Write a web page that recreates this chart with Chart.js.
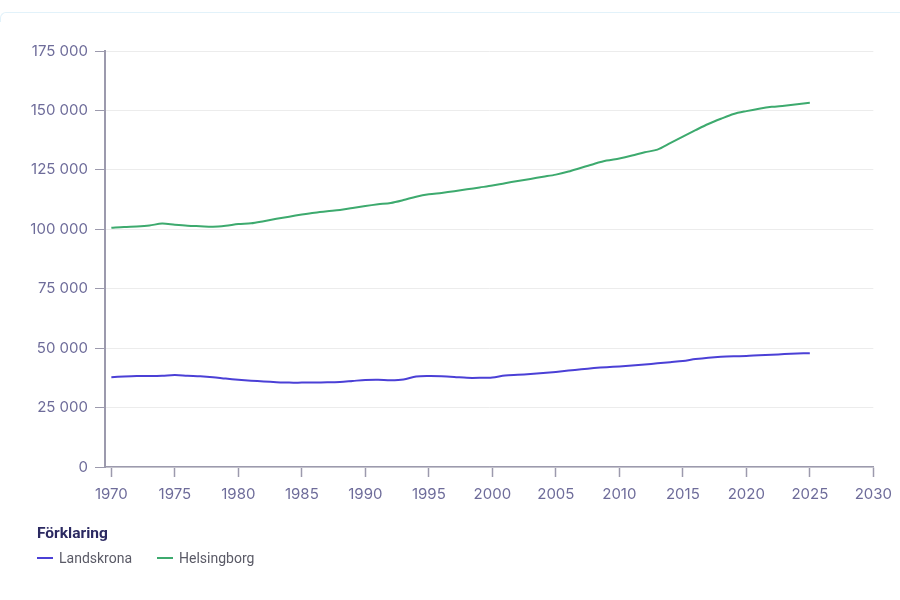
<!DOCTYPE html>
<html lang="sv">
<head>
<meta charset="utf-8">
<title>Folkmängd Landskrona och Helsingborg</title>
<script src="https://cdn.jsdelivr.net/npm/chart.js@4.4.1/dist/chart.umd.min.js"></script>
<style>
    body { margin: 0; background: #fff; }
    .card { position: relative; width: 900px; height: 600px; overflow: hidden; }
    .card-top { position: absolute; left: 0; top: 12px; width: 900px; height: 10px;
        border-top: 1px solid #e2f2fa; border-left: 1px solid #e2f2fa; border-top-left-radius: 6px; box-sizing: border-box; }
    .chart-box { position: absolute; left: 0; top: 0; width: 900px; height: 600px; }
    .legend { position: absolute; left: 37px; top: 523px; font-family: Roboto, "Noto Sans", sans-serif; }
    .legend h4 { margin: 0; font-size: 15.5px; line-height: 20px; font-weight: 700; color: #2b2961; }
    .legend-items { display: flex; margin-top: 6px; }
    .legend-item { display: flex; align-items: center; margin-right: 25px; font-size: 14px; line-height: 18px; color: #5a5a66; }
    .legend-item .swatch { width: 16px; height: 2px; margin-right: 6px; }
</style>
</head>
<body>
<div class="card">
    <div class="card-top"></div>
    <div class="chart-box"><canvas id="populationChart"></canvas></div>
    <div class="legend" id="legend">
        <h4>Förklaring</h4>
        <div class="legend-items" id="legend-items"></div>
    </div>
</div>
<script>
// Folkmängd per år

const years = [
    1970, 1971, 1972, 1973, 1974, 1975, 1976, 1977, 1978, 1979,
    1980, 1981, 1982, 1983, 1984, 1985, 1986, 1987, 1988, 1989,
    1990, 1991, 1992, 1993, 1994, 1995, 1996, 1997, 1998, 1999,
    2000, 2001, 2002, 2003, 2004, 2005, 2006, 2007, 2008, 2009,
    2010, 2011, 2012, 2013, 2014, 2015, 2016, 2017, 2018, 2019,
    2020, 2021, 2022, 2023, 2024, 2025
];

const landskrona = [
    37800, 38100, 38300, 38300, 38400, 38700, 38400, 38200, 37800, 37200,
    36700, 36300, 36000, 35700, 35500, 35500, 35500, 35600, 35800, 36200,
    36600, 36700, 36500, 36800, 38100, 38300, 38200, 37900, 37500, 37500,
    37700, 38500, 38800, 39100, 39500, 40000, 40600, 41100, 41600, 42000,
    42300, 42700, 43100, 43600, 44100, 44600, 45400, 46000, 46400, 46600,
    46700, 47000, 47200, 47500, 47700, 47900
];

const helsingborg = [
    100600, 101000, 101200, 101600, 102400, 101900, 101500, 101300, 101100, 101500,
    102200, 102500, 103400, 104400, 105300, 106200, 107000, 107600, 108100, 109000,
    109800, 110500, 111100, 112300, 113700, 114700, 115300, 116000, 116800, 117600,
    118400, 119400, 120300, 121200, 122100, 123000, 124300, 125900, 127500, 128900,
    129800, 131000, 132400, 133500, 136200, 139000, 141700, 144300, 146500, 148500,
    149700, 150700, 151500, 152000, 152600, 153200
];

const xTicks = [1970, 1975, 1980, 1985, 1990, 1995, 2000, 2005, 2010, 2015, 2020, 2025, 2030];
const yTicks = [0, 25000, 50000, 75000, 100000, 125000, 150000, 175000];

const axisColor = '#9c9aad';
const tickTextColor = '#6e6c9a';

function toPoints(values) {
    return years.map((year, i) => ({ x: year, y: values[i] }));
}

function formatNumber(value) {
    return String(value).replace(/\B(?=(\d{3})+(?!\d))/g, ' ');
}

Chart.defaults.font.family = 'Inter, Roboto, "Noto Sans", sans-serif';

const chart = new Chart(document.getElementById('populationChart'), {
    type: 'line',
    data: {
        datasets: [
            {
                label: 'Landskrona',
                data: toPoints(landskrona),
                borderColor: '#4b40d6',
                backgroundColor: '#4b40d6',
                borderWidth: 2,
                pointRadius: 0,
                tension: 0.3
            },
            {
                label: 'Helsingborg',
                data: toPoints(helsingborg),
                borderColor: '#3daa6e',
                backgroundColor: '#3daa6e',
                borderWidth: 2,
                pointRadius: 0,
                tension: 0.3
            }
        ]
    },
    options: {
        responsive: true,
        maintainAspectRatio: false,
        animation: false,
        layout: {
            padding: { top: 51, right: 26, bottom: 0, left: 0 }
        },
        plugins: {
            legend: { display: false },
            tooltip: { enabled: false }
        },
        scales: {
            x: {
                type: 'linear',
                min: 1969.5,
                max: 2030,
                afterBuildTicks: scale => { scale.ticks = xTicks.map(v => ({ value: v })); },
                afterFit: scale => { scale.height = 133; },
                grid: {
                    drawOnChartArea: false,
                    tickColor: axisColor,
                    tickLength: 10,
                    tickWidth: 1.5
                },
                border: { color: axisColor, width: 1.5 },
                ticks: {
                    color: tickTextColor,
                    padding: 8,
                    maxRotation: 0,
                    autoSkip: false,
                    font: { size: 15 },
                    callback: value => String(value)
                }
            },
            y: {
                min: 0,
                max: 175000,
                afterBuildTicks: scale => { scale.ticks = yTicks.map(v => ({ value: v })); },
                afterFit: scale => { scale.width = 105; },
                grid: {
                    color: '#ececec',
                    tickColor: axisColor,
                    tickLength: 10,
                    lineWidth: 1
                },
                border: { color: axisColor, width: 2 },
                ticks: {
                    color: tickTextColor,
                    padding: 7,
                    font: { size: 15 },
                    callback: value => formatNumber(value)
                }
            }
        }
    }
});

// Legend built from the datasets
function buildLegend() {
    const items = document.getElementById('legend-items');
    items.innerHTML = '';
    chart.data.datasets.forEach(ds => {
        const item = document.createElement('div');
        item.className = 'legend-item';
        item.innerHTML = `<span class="swatch" style="background:${ds.borderColor}"></span><span>${ds.label}</span>`;
        items.appendChild(item);
    });
}

buildLegend();
</script>
</body>
</html>
